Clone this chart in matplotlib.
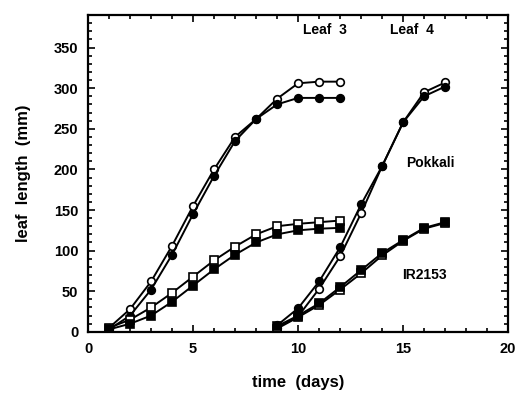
import numpy as np
import matplotlib.pyplot as plt
from matplotlib.ticker import MultipleLocator

plt.rcParams['font.family'] = 'Liberation Sans'
plt.rcParams['font.weight'] = 'bold'

# leaf 3 (days 1-12)
days3 = [1, 2, 3, 4, 5, 6, 7, 8, 9, 10, 11, 12]
pok3_open = [5, 28, 62, 106, 155, 200, 240, 262, 287, 306, 308, 308]
pok3_fill = [3, 20, 52, 95, 145, 192, 235, 262, 280, 288, 288, 288]
ir3_open = [5, 15, 30, 48, 68, 88, 105, 120, 130, 133, 135, 137]
ir3_fill = [3, 10, 20, 37, 57, 77, 95, 110, 120, 125, 127, 128]

# leaf 4 (days 9-17)
days4 = [9, 10, 11, 12, 13, 14, 15, 16, 17]
pok4_open = [5, 19, 53, 93, 146, 204, 258, 295, 307]
pok4_fill = [8, 29, 62, 104, 157, 204, 258, 290, 302]
ir4_open = [4, 18, 33, 52, 72, 94, 112, 127, 134]
ir4_fill = [7, 20, 35, 55, 76, 97, 113, 128, 135]

fig = plt.figure(figsize=(5.18, 3.96), dpi=100)
ax = fig.add_axes([0.170, 0.162, 0.811, 0.800])

def series(x, y, marker, filled):
    ax.plot(x, y, color='black', lw=1.4, marker=marker, ms=5.5,
            mfc='black' if filled else 'white', mec='black', mew=1.2)

series(days3, pok3_open, 'o', False)
series(days3, pok3_fill, 'o', True)
series(days3, ir3_open, 's', False)
series(days3, ir3_fill, 's', True)
series(days4, pok4_open, 'o', False)
series(days4, pok4_fill, 'o', True)
series(days4, ir4_open, 's', False)
series(days4, ir4_fill, 's', True)

ax.set_xlim(0, 20)
ax.set_ylim(0, 390)
ax.xaxis.set_major_locator(MultipleLocator(5))
ax.xaxis.set_minor_locator(MultipleLocator(1))
ax.yaxis.set_major_locator(MultipleLocator(50))
ax.yaxis.set_minor_locator(MultipleLocator(10))
ax.set_yticks(np.arange(0, 351, 50))
ax.tick_params(which='both', direction='in', top=True, right=True, width=1.2)
ax.tick_params(which='major', length=5, labelsize=10.5, pad=7)
ax.tick_params(which='minor', length=3)
for s in ax.spines.values():
    s.set_linewidth(1.6)

ax.set_xlabel('time  (days)', fontsize=12, fontweight='bold', labelpad=14)
ax.set_ylabel('leaf  length  (mm)', fontsize=12, fontweight='bold', labelpad=16)

ax.text(11.3, 372, 'Leaf  3', fontsize=10, fontweight='bold', ha='center', va='center')
ax.text(15.4, 372, 'Leaf  4', fontsize=10, fontweight='bold', ha='center', va='center')
ax.text(16.3, 208, 'Pokkali', fontsize=10, fontweight='bold', ha='center', va='center')
ax.text(16.0, 70, 'IR2153', fontsize=10, fontweight='bold', ha='center', va='center')

fig.savefig('out.png', dpi=100)
